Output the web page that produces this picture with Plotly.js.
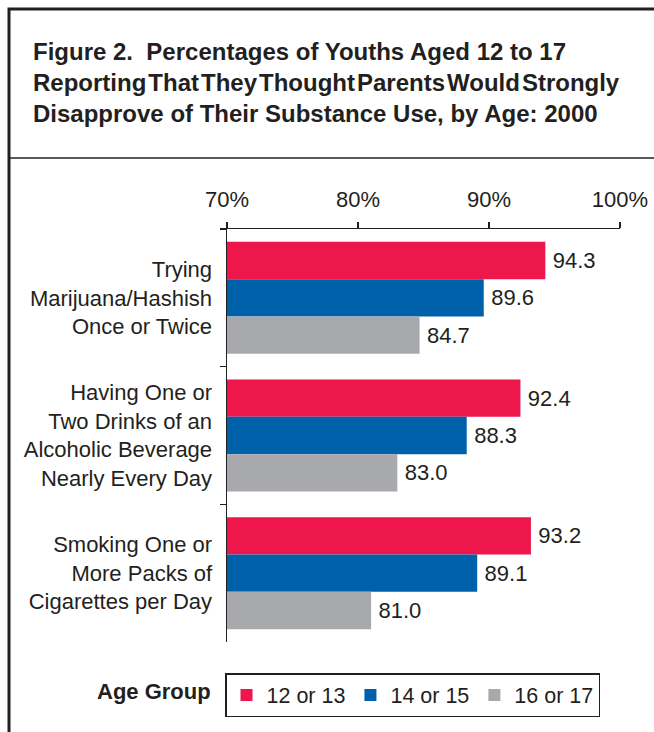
<!DOCTYPE html>
<html>
<head>
<meta charset="utf-8">
<script src="https://cdn.plot.ly/plotly-3.0.1.min.js"></script>
<style>html,body{margin:0;padding:0;background:#fff;}#chart{width:654px;height:732px;}</style>
</head>
<body>
<div id="chart"></div>
<script>
var categories = [
  "Trying<br>Marijuana/Hashish<br>Once or Twice",
  "Having One or<br>Two Drinks of an<br>Alcoholic Beverage<br>Nearly Every Day",
  "Smoking One or<br>More Packs of<br>Cigarettes per Day"
];
var seriesNames = ["12 or 13", "14 or 15", "16 or 17"];
var age12to13 = [94.3, 92.4, 93.2];
var age14to15 = [89.6, 88.3, 89.1];
var age16to17 = [84.7, 83.0, 81.0];
var tickVals = [70, 80, 90, 100];
var tickText = ["70%", "80%", "90%", "100%"];

var FONT = "Liberation Sans, Arial, Helvetica, sans-serif";
var INK = "#231f20";
var colors = ["#ed174b", "#0061ab", "#a7a9ac"];
var allSeries = [age12to13, age14to15, age16to17];

var traces = allSeries.map(function (vals, i) {
  return {
    type: "bar",
    orientation: "h",
    name: seriesNames[i],
    y: categories,
    x: vals,
    marker: {color: colors[i], line: {width: 0}},
    text: vals.map(function (v) { return "\u2009" + v.toFixed(1); }),
    textposition: "outside",
    textfont: {family: FONT, size: 22, color: INK},
    constraintext: "none",
    cliponaxis: false,
    hoverinfo: "x+name"
  };
});

// plot area in pixels: x 227..620, y 229..642
function px(x) { return (x - 227) / 393; }
function py(y) { return (642 - y) / 413; }

var layout = {
  width: 654,
  height: 732,
  paper_bgcolor: "#ffffff",
  plot_bgcolor: "#ffffff",
  margin: {l: 227, r: 34, t: 229, b: 90, pad: 0},
  font: {family: FONT, size: 22, color: INK},
  title: {
    text: "Figure 2.\u00a0 Percentages of Youths Aged 12 to 17<br>Reporting\u200aThat\u200aThey\u200aThought\u200aParents\u200aWould\u200aStrongly<br>Disapprove of Their Substance Use, by Age: 2000",
    font: {family: FONT, size: 24, color: INK, weight: "bold"},
    x: 33 / 654,
    xanchor: "left",
    xref: "container",
    y: 1 - 60 / 732,
    yanchor: "top",
    yref: "container",
    pad: {t: 0, b: 0, l: 0, r: 0}
  },
  barmode: "group",
  bargap: 0.187,
  bargroupgap: 0,
  xaxis: {
    side: "top",
    range: [70, 100],
    tickvals: tickVals,
    ticktext: tickText,
    ticks: "outside",
    ticklen: 6,
    tickwidth: 1.5,
    tickcolor: INK,
    showline: true,
    linecolor: INK,
    linewidth: 1.5,
    showgrid: false,
    zeroline: false,
    tickfont: {family: FONT, size: 22, color: INK},
    ticklabelstandoff: 6,
    fixedrange: true
  },
  yaxis: {
    type: "category",
    autorange: "reversed",
    ticks: "outside",
    tickson: "boundaries",
    ticklen: 6,
    tickwidth: 1.5,
    tickcolor: INK,
    showline: true,
    linecolor: INK,
    linewidth: 1.5,
    showgrid: false,
    zeroline: false,
    tickfont: {family: FONT, size: 22, color: INK},
    ticklabelstandoff: 9,
    fixedrange: true
  },
  showlegend: true,
  legend: {
    orientation: "h",
    x: px(225),
    xanchor: "left",
    y: py(673),
    yanchor: "top",
    bordercolor: INK,
    borderwidth: 1.5,
    bgcolor: "#ffffff",
    font: {family: FONT, size: 21.5, color: INK},
    traceorder: "normal"
  },
  annotations: [{
    text: "<b>Age Group</b>",
    xref: "paper", yref: "paper",
    x: px(213), y: py(691),
    xanchor: "right", yanchor: "middle",
    showarrow: false,
    font: {family: FONT, size: 22, color: INK}
  }],
  shapes: [
    {type: "path", xref: "paper", yref: "paper",
     path: "M " + px(9) + " " + py(760) + " L " + px(9) + " " + py(9) + " L " + px(680) + " " + py(9),
     line: {color: INK, width: 3}},
    {type: "line", xref: "paper", yref: "paper",
     x0: px(9), x1: px(680), y0: py(158), y1: py(158),
     line: {color: INK, width: 1.5}}
  ]
};

Plotly.newPlot("chart", traces, layout, {displayModeBar: false, staticPlot: true});
</script>
</body>
</html>
